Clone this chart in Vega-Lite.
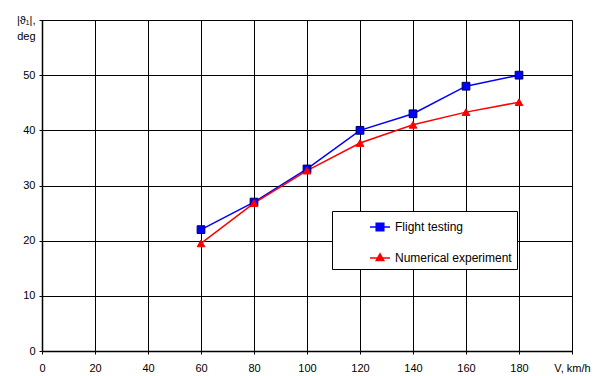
{
  "$schema": "https://vega.github.io/schema/vega-lite/v6.json",
  "width": 530,
  "height": 331,
  "autosize": {"type": "none"},
  "padding": {"left": 42, "top": 20, "right": 22, "bottom": 25},
  "background": "white",
  "config": {
    "font": "Liberation Sans",
    "view": {"stroke": "#808080", "strokeWidth": 1},
    "axis": {
      "labelFont": "Liberation Sans",
      "labelFontSize": 11,
      "labelColor": "black",
      "domainColor": "black",
      "domainWidth": 1.5,
      "tickColor": "black",
      "tickSize": 3,
      "gridColor": "black",
      "gridWidth": 1,
      "gridOpacity": 1,
      "title": null,
      "labelOverlap": false,
      "labelFlush": false
    }
  },
  "data": {
    "values": [
      {"V": 60, "deg": 22, "series": "Flight testing"},
      {"V": 80, "deg": 27, "series": "Flight testing"},
      {"V": 100, "deg": 33, "series": "Flight testing"},
      {"V": 120, "deg": 40, "series": "Flight testing"},
      {"V": 140, "deg": 43, "series": "Flight testing"},
      {"V": 160, "deg": 48, "series": "Flight testing"},
      {"V": 180, "deg": 50, "series": "Flight testing"},
      {"V": 60, "deg": 19.5, "series": "Numerical experiment"},
      {"V": 80, "deg": 26.8, "series": "Numerical experiment"},
      {"V": 100, "deg": 32.7, "series": "Numerical experiment"},
      {"V": 120, "deg": 37.7, "series": "Numerical experiment"},
      {"V": 140, "deg": 41, "series": "Numerical experiment"},
      {"V": 160, "deg": 43.3, "series": "Numerical experiment"},
      {"V": 180, "deg": 45.1, "series": "Numerical experiment"}
    ]
  },
  "encoding": {
    "x": {
      "field": "V", "type": "quantitative",
      "scale": {"domain": [0, 200], "nice": false},
      "axis": {
        "values": [0, 20, 40, 60, 80, 100, 120, 140, 160, 180, 200],
        "labelPadding": 8,
        "labelExpr": "datum.value == 200 ? 'V, km/h' : datum.label"
      }
    },
    "y": {
      "field": "deg", "type": "quantitative",
      "scale": {"domain": [0, 60], "nice": false},
      "axis": {
        "values": [0, 10, 20, 30, 40, 50, 60],
        "labelPadding": 4,
        "labelLineHeight": 16,
        "labelExpr": "datum.value == 60 ? ['|ϑ₁|,', 'deg'] : datum.label"
      }
    }
  },
  "resolve": {"scale": {"shape": "independent", "color": "independent", "stroke": "independent"}},
  "layer": [
    {
      "mark": {"type": "line", "strokeWidth": 1.5},
      "encoding": {
        "color": {
          "field": "series", "type": "nominal",
          "scale": {"domain": ["Flight testing", "Numerical experiment"], "range": ["#0000FF", "#FF0000"]},
          "legend": null
        }
      }
    },
    {
      "mark": {"type": "point", "filled": true, "opacity": 1, "strokeWidth": 1, "size": 60},
      "encoding": {
        "color": {
          "field": "series", "type": "nominal",
          "scale": {"domain": ["Flight testing", "Numerical experiment"], "range": ["#0000FF", "#FF0000"]},
          "legend": null
        },
        "stroke": {
          "field": "series", "type": "nominal",
          "scale": {"domain": ["Flight testing", "Numerical experiment"], "range": ["#000060", "#FF0000"]},
          "legend": null
        },
        "shape": {
          "field": "series", "type": "nominal",
          "scale": {"domain": ["Flight testing", "Numerical experiment"], "range": ["square", "triangle-up"]},
          "legend": null
        }
      }
    },
    {
      "transform": [{"filter": "false"}],
      "mark": {"type": "point", "filled": true, "opacity": 1, "strokeWidth": 1.5},
      "encoding": {
        "color": {
          "field": "series", "type": "nominal",
          "scale": {"domain": ["Flight testing", "Numerical experiment"], "range": ["#0000FF", "#FF0000"]}
        },
        "stroke": {
          "field": "series", "type": "nominal",
          "scale": {"domain": ["Flight testing", "Numerical experiment"], "range": ["#0000FF", "#FF0000"]}
        },
        "shape": {
          "field": "series", "type": "nominal",
          "scale": {
            "domain": ["Flight testing", "Numerical experiment"],
            "range": [
              "M-1,0H1M-0.38,-0.38H0.38V0.38H-0.38Z",
              "M-1,0H1M0,-0.42L0.38,0.26L-0.38,0.26Z"
            ]
          },
          "legend": {
            "title": null,
            "orient": "none",
            "legendX": 290,
            "legendY": 191,
            "strokeColor": "black",
            "fillColor": "white",
            "padding": 5,
            "symbolOffset": 32,
            "symbolSize": 400,
            "symbolStrokeWidth": 1.5,
            "symbolOpacity": 1,
            "rowPadding": 13,
            "labelFont": "Liberation Sans",
            "labelFontSize": 12,
            "labelColor": "black",
            "labelOffset": 4,
            "labelLimit": 300
          }
        }
      }
    }
  ]
}
